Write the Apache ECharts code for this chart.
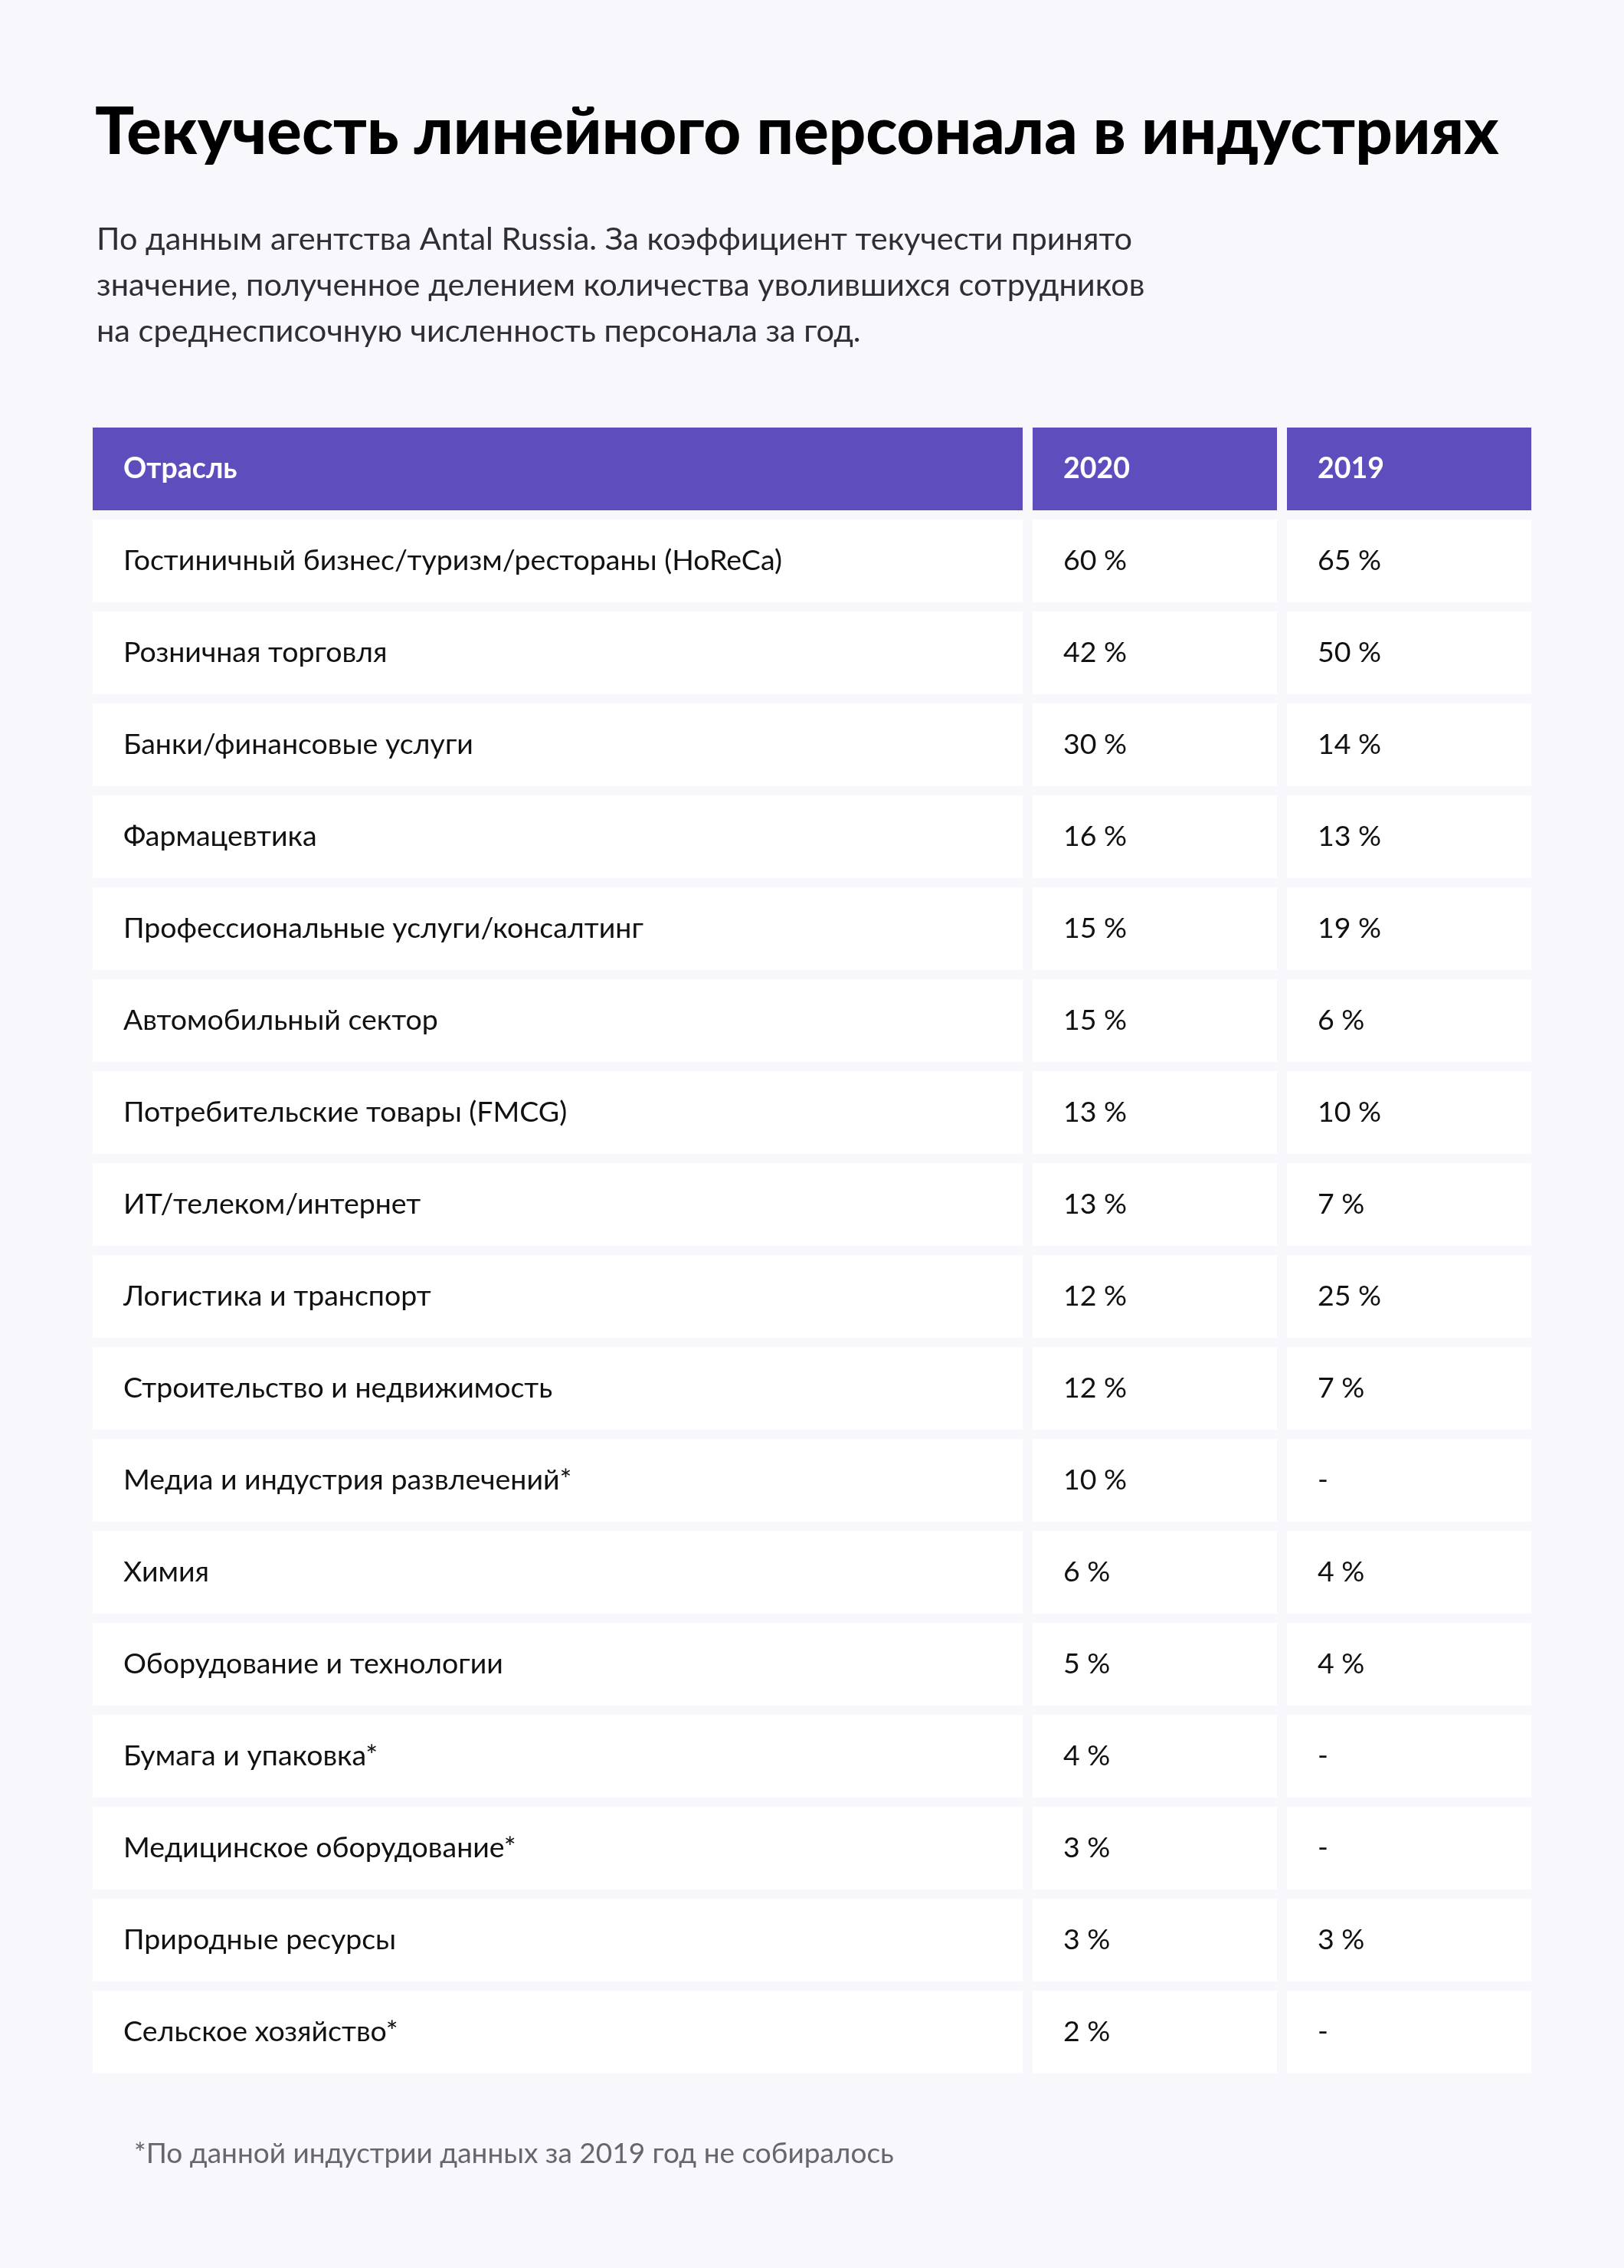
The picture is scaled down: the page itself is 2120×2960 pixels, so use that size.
<!DOCTYPE html>
<html>
<head>
<meta charset="utf-8">
<script src="https://cdn.jsdelivr.net/npm/echarts@6/dist/echarts.min.js"></script>
<style>
html,body{margin:0;padding:0;background:#f7f7fc;}
#chart{width:2120px;height:2960px;}
</style>
</head>
<body>
<div id="chart"></div>
<script>
// ---- data ----
var headers = ['Отрасль', '2020', '2019'];
var industries = [
  'Гостиничный бизнес/туризм/рестораны (HoReCa)',
  'Розничная торговля',
  'Банки/финансовые услуги',
  'Фармацевтика',
  'Профессиональные услуги/консалтинг',
  'Автомобильный сектор',
  'Потребительские товары (FMCG)',
  'ИТ/телеком/интернет',
  'Логистика и транспорт',
  'Строительство и недвижимость',
  'Медиа и индустрия развлечений*',
  'Химия',
  'Оборудование и технологии',
  'Бумага и упаковка*',
  'Медицинское оборудование*',
  'Природные ресурсы',
  'Сельское хозяйство*'
];
var turnover2020 = [60, 42, 30, 16, 15, 15, 13, 13, 12, 12, 10, 6, 5, 4, 3, 3, 2];
var turnover2019 = [65, 50, 14, 13, 19, 6, 10, 7, 25, 7, null, 4, 4, null, null, 3, null];
var titleText = 'Текучесть линейного персонала в индустриях';
var subtitleText = 'По данным агентства Antal Russia. За коэффициент текучести принято\nзначение, полученное делением количества уволившихся сотрудников\nна среднесписочную численность персонала за год.';
var footnoteText = '*По данной индустрии данных за 2019 год не собиралось';

// ---- layout (styles) ----
var FONT = 'Lato, "Noto Sans", sans-serif';
var HEADER_BG = '#5d4dbd';
var CELL_BG = '#ffffff';
var COL_X = [0, 1227, 1559];
var COL_W = [1214, 319, 319];
var CELL_H = 108;
var PAD = 40;

function fmt(v) { return v == null ? '-' : v + ' %'; }

var rowNames = ['__header__'].concat(industries);
var seriesData = rowNames.map(function (name, i) {
  var cells = i === 0 ? headers : [industries[i - 1], fmt(turnover2020[i - 1]), fmt(turnover2019[i - 1])];
  return { value: [0, i], cells: cells, isHeader: i === 0 };
});

var chart = echarts.init(document.getElementById('chart'), null, { renderer: 'canvas' });
chart.setOption({
  backgroundColor: '#f7f7fc',
  animation: false,
  title: [
    { text: titleText, left: 119, top: 126,
      textStyle: { fontFamily: FONT, fontWeight: 900, fontSize: 85, lineHeight: 85, color: '#000' } },
    { text: subtitleText, left: 121, top: 278,
      textStyle: { fontFamily: FONT, fontWeight: 400, fontSize: 41.5, lineHeight: 60, color: '#2e2e36' } },
    { text: footnoteText, left: 170, top: 2786,
      textStyle: { fontFamily: FONT, fontWeight: 400, fontSize: 37, lineHeight: 40, color: '#66666e' } }
  ],
  grid: { left: 121, right: 121, top: 558, height: 2160 },
  xAxis: { type: 'value', min: 0, max: 1878, show: false },
  yAxis: { type: 'category', data: rowNames, inverse: true, show: false },
  series: [{
    type: 'custom',
    data: seriesData,
    renderItem: function (params, api) {
      var idx = api.value(1);
      var item = seriesData[params.dataIndex];
      var center = api.coord([0, idx]);
      var band = api.size([0, 1])[1];
      var top = center[1] - band / 2;
      var x0 = center[0];
      var children = [];
      for (var c = 0; c < 3; c++) {
        var cx = x0 + COL_X[c];
        children.push({
          type: 'rect',
          shape: { x: cx, y: top, width: COL_W[c], height: CELL_H },
          style: { fill: item.isHeader ? HEADER_BG : CELL_BG }
        });
        children.push({
          type: 'text',
          style: {
            x: cx + PAD, y: top + CELL_H / 2,
            text: item.cells[c],
            textAlign: 'left', textVerticalAlign: 'middle',
            fill: item.isHeader ? '#ffffff' : '#111111',
            font: (item.isHeader ? '700 ' : '400 ') + '37.5px ' + FONT
          }
        });
      }
      return { type: 'group', children: children };
    }
  }]
});
</script>
</body>
</html>
